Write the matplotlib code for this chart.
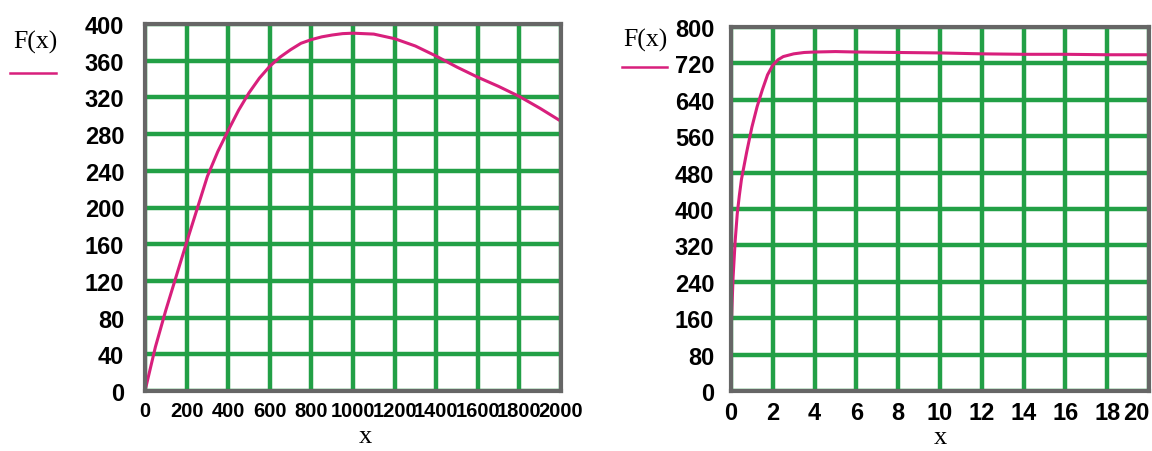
import matplotlib
matplotlib.use("Agg")
import matplotlib.pyplot as plt
from matplotlib.lines import Line2D

# ---- data ----
left_x = [0, 50, 100, 150, 200, 250, 300, 350, 400, 450, 500, 550, 600, 650,
          700, 750, 800, 850, 900, 950, 1000, 1100, 1200, 1300, 1400, 1500,
          1600, 1700, 1800, 1900, 2000]
left_y = [0, 48, 88, 125, 162, 198, 234, 261, 284, 306, 325, 341, 354, 364,
          372, 379, 383, 386, 388, 389.5, 390, 389, 384, 376, 365, 353,
          342, 332, 321, 308, 294]

right_x = [0, 0.05, 0.1, 0.2, 0.3, 0.4, 0.5, 0.75, 1.0, 1.25, 1.5, 1.75, 2.0,
           2.25, 2.5, 3.0, 3.5, 4.0, 5.0, 6.0, 8.0, 10.0, 12.0, 14.0, 16.0,
           18.0, 20.0]
right_y = [120, 190, 250, 330, 390, 430, 465, 525, 580, 625, 662, 695, 716,
           728, 735, 741, 744, 745, 746, 745, 744, 743, 741, 740, 740,
           739, 739]

left_xticks = [0, 200, 400, 600, 800, 1000, 1200, 1400, 1600, 1800, 2000]
left_yticks = [0, 40, 80, 120, 160, 200, 240, 280, 320, 360, 400]
right_xticks = [0, 2, 4, 6, 8, 10, 12, 14, 16, 18, 20]
right_yticks = [0, 80, 160, 240, 320, 400, 480, 560, 640, 720, 800]

label_text = "F(x)"
xlabel_text = "x"

# ---- style ----
GREEN = "#22a046"
PINK = "#d81f7c"
FRAME = "#666666"
TICKFONT = ["Liberation Sans", "DejaVu Sans"]
SERIF = ["Liberation Serif", "DejaVu Serif"]

fig = plt.figure(figsize=(11.52, 4.52), dpi=100)
ax1 = fig.add_axes([145/1152, 60/452, 416/1152, 367/452])
ax2 = fig.add_axes([731/1152, 60/452, 418/1152, 364/452])


def style(ax, xt, yt, xlim, ylim, ypad, xsize, lab_x, lab_y):
    ax.set_xlim(*xlim)
    ax.set_ylim(*ylim)
    ax.set_xticks(xt)
    ax.set_yticks(yt)
    ax.grid(True, color=GREEN, linewidth=3.2, zorder=1)
    ax.set_axisbelow(True)
    for s in ax.spines.values():
        s.set_color(FRAME)
        s.set_linewidth(3.0)
        s.set_zorder(5)
    ax.tick_params(length=0, pad=ypad, axis="y")
    ax.tick_params(length=0, pad=7, axis="x")
    for lab in ax.get_yticklabels():
        lab.set_family(TICKFONT)
        lab.set_fontweight("bold")
        lab.set_fontsize(17)
    for lab in ax.get_xticklabels():
        lab.set_family(TICKFONT)
        lab.set_fontweight("bold")
        lab.set_fontsize(xsize)
    ax.set_xlabel(xlabel_text, family=SERIF, fontsize=19)
    ax.xaxis.set_label_coords(lab_x, lab_y)


style(ax1, left_xticks, left_yticks, (0, 2000), (0, 400), 15, 14.5,
      0.529, -0.094)
style(ax2, right_xticks, right_yticks, (0, 20), (0, 800), 12, 17,
      0.5, -0.095)

# keep the last label on the right inside the figure
ax2.get_xticklabels()[-1].set_horizontalalignment("right")
ax2.get_xticklabels()[-1].set_x(20.3)

ax1.plot(left_x, left_y, color=PINK, linewidth=2.2, zorder=3, clip_on=False,
         solid_capstyle="round")
ax2.plot(right_x, right_y, color=PINK, linewidth=2.2, zorder=3,
         solid_capstyle="round")

# F(x) legend-like labels
fig.text(35/1152, 1 - 42/452, label_text, family=SERIF, fontsize=18.5,
         ha="center", va="center")
fig.add_artist(Line2D([10/1152, 56/1152], [1 - 74/452, 1 - 74/452],
                      color=PINK, linewidth=1.8))
fig.text(645/1152, 1 - 40/452, label_text, family=SERIF, fontsize=18.5,
         ha="center", va="center")
fig.add_artist(Line2D([622/1152, 667/1152], [1 - 68/452, 1 - 68/452],
                      color=PINK, linewidth=1.8))

fig.savefig("out.png", dpi=100)
